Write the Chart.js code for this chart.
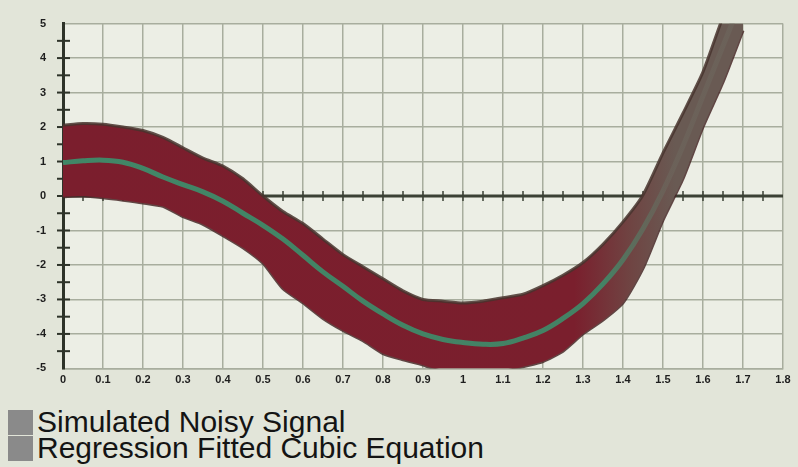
<!DOCTYPE html>
<html>
<head>
<meta charset="utf-8">
<script src="https://cdn.jsdelivr.net/npm/chart.js@4/dist/chart.umd.min.js"></script>
<style>
  html, body { margin: 0; padding: 0; }
  body { width: 798px; height: 467px; background: #e2e5d9; position: relative; overflow: hidden; font-family: "Liberation Sans", Arial, sans-serif; }
  #wrap { position: absolute; left: 0; top: 0; width: 798px; height: 392px; }
  #legend { position: absolute; left: 8px; top: 409px; }
  .row { height: 26px; line-height: 26px; font-size: 30px; color: #141414; white-space: nowrap; position: relative; padding-left: 29px; }
  .box { position: absolute; left: 0; top: 1px; width: 25px; height: 25px; background: #8a8a8a; }
</style>
</head>
<body>
<div id="wrap"><canvas id="chart"></canvas></div>
<div id="legend"></div>
<script>
// valori (x ogni 0.05)
const xValues = [0, 0.05, 0.1, 0.15, 0.2, 0.25, 0.3, 0.35, 0.4, 0.45, 0.5, 0.55, 0.6, 0.65, 0.7, 0.75, 0.8, 0.85,
                 0.9, 0.95, 1.0, 1.05, 1.1, 1.15, 1.2, 1.25, 1.3, 1.35, 1.4, 1.45, 1.5, 1.55, 1.6, 1.65, 1.7];
// bordo superiore del segnale rumoroso
const upperValues = [2.05, 2.1, 2.08, 2.0, 1.9, 1.7, 1.4, 1.1, 0.87, 0.5, 0.0, -0.45, -0.8, -1.25, -1.7, -2.05, -2.4, -2.75,
                     -3.0, -3.05, -3.1, -3.05, -2.95, -2.85, -2.6, -2.3, -1.93, -1.4, -0.75, 0.03, 1.25, 2.4, 3.6, 5.2, 6.6];
// bordo inferiore del segnale rumoroso
const lowerValues = [-0.02, 0.0, -0.05, -0.12, -0.2, -0.3, -0.6, -0.82, -1.15, -1.5, -1.95, -2.69, -3.1, -3.55, -3.9, -4.2, -4.57, -4.75,
                     -4.9, -5.1, -5.2, -5.2, -5.1, -4.95, -4.8, -4.5, -4.0, -3.6, -3.1, -2.1, -0.7, 0.5, 2.0, 3.3, 4.8];
// curva cubica di regressione
const fitValues = [0.97, 1.02, 1.04, 0.98, 0.8, 0.55, 0.33, 0.12, -0.15, -0.5, -0.85, -1.25, -1.72, -2.2, -2.62, -3.05, -3.42, -3.75,
                   -4.0, -4.16, -4.25, -4.3, -4.28, -4.12, -3.9, -3.55, -3.12, -2.55, -1.85, -0.95, 0.15, 1.45, 2.9, 4.35, 5.8];

const xTickLabels = ['0', '0.1', '0.2', '0.3', '0.4', '0.5', '0.6', '0.7', '0.8', '0.9', '1', '1.1', '1.2', '1.3', '1.4', '1.5', '1.6', '1.7', '1.8'];
const yTickLabels = ['-5', '-4', '-3', '-2', '-1', '0', '1', '2', '3', '4', '5'];
const legendLabels = ['Simulated Noisy Signal', 'Regression Fitted Cubic Equation'];

function toPoints(ys) {
    return xValues.map((x, i) => ({ x: x, y: ys[i] }));
}

// colore della banda: rosso scuro che diventa grigio-marrone a destra
function bandColor(context) {
    const chart = context.chart;
    if (!chart.chartArea) return '#7a1e2d';
    const xs = chart.scales.x;
    const g = chart.ctx.createLinearGradient(xs.getPixelForValue(0), 0, xs.getPixelForValue(1.8), 0);
    g.addColorStop(0, '#7b1e2d');
    g.addColorStop(0.71, '#7a1f2d');
    g.addColorStop(0.79, '#6f4543');
    g.addColorStop(0.85, '#695a53');
    g.addColorStop(1, '#695a53');
    return g;
}

function fitColor(context) {
    const chart = context.chart;
    if (!chart.chartArea) return '#3f8a69';
    const xs = chart.scales.x;
    const g = chart.ctx.createLinearGradient(xs.getPixelForValue(0), 0, xs.getPixelForValue(1.8), 0);
    g.addColorStop(0, 'rgba(62,140,106,0.95)');
    g.addColorStop(0.75, 'rgba(62,140,106,0.9)');
    g.addColorStop(0.84, 'rgba(110,105,95,0.5)');
    g.addColorStop(1, 'rgba(110,105,95,0.5)');
    return g;
}

// sfondo area del grafico, asse dello zero e tacche
const plotDecor = {
    id: 'plotDecor',
    beforeDraw(chart) {
        const { ctx, chartArea } = chart;
        ctx.save();
        ctx.fillStyle = '#eceee5';
        ctx.fillRect(chartArea.left, chartArea.top, chartArea.right - chartArea.left, chartArea.bottom - chartArea.top);
        ctx.restore();
    },
    beforeDatasetsDraw(chart) {
        const { ctx, chartArea } = chart;
        const xs = chart.scales.x, ys = chart.scales.y;
        const y0 = ys.getPixelForValue(0);
        ctx.save();
        ctx.strokeStyle = '#3b4135';
        ctx.lineWidth = 3;
        ctx.beginPath();
        ctx.moveTo(chartArea.left, y0);
        ctx.lineTo(chartArea.right, y0);
        ctx.stroke();
        ctx.lineWidth = 1.5;
        for (let v = 0.05; v < 1.8; v += 0.05) {
            const px = xs.getPixelForValue(v);
            ctx.beginPath();
            ctx.moveTo(px, y0 - 5);
            ctx.lineTo(px, y0 + 5);
            ctx.stroke();
        }
        // tacche minori sull'asse y
        const x0 = xs.getPixelForValue(0);
        ctx.strokeStyle = '#2e3329';
        ctx.lineWidth = 2;
        for (let v = -4.5; v < 5; v += 0.5) {
            const py = ys.getPixelForValue(v);
            ctx.beginPath();
            ctx.moveTo(x0 - 6, py);
            ctx.lineTo(x0 + 7, py);
            ctx.stroke();
        }
        ctx.restore();
    }
};

const ctx = document.getElementById('chart').getContext('2d');
new Chart(ctx, {
    type: 'line',
    data: {
        datasets: [
            {
                label: legendLabels[1],
                data: toPoints(fitValues),
                borderColor: fitColor,
                borderWidth: 5,
                pointRadius: 0,
                tension: 0.4,
                fill: false,
                order: 0
            },
            {
                label: legendLabels[0],
                data: toPoints(upperValues),
                borderColor: 'rgba(72,52,46,0.85)',
                backgroundColor: bandColor,
                borderWidth: 3,
                pointRadius: 0,
                tension: 0.2,
                fill: '+1',
                order: 1
            },
            {
                label: legendLabels[0],
                data: toPoints(lowerValues),
                borderColor: 'rgba(72,40,40,0.85)',
                borderWidth: 3,
                pointRadius: 0,
                tension: 0.2,
                fill: false,
                order: 2
            }
        ]
    },
    plugins: [plotDecor],
    options: {
        responsive: true,
        maintainAspectRatio: false,
        animation: false,
        layout: { padding: { top: 15, right: 15, left: 0, bottom: 0 } },
        plugins: {
            legend: { display: false },
            tooltip: { enabled: false }
        },
        scales: {
            x: {
                type: 'linear',
                min: 0,
                max: 1.8,
                ticks: {
                    stepSize: 0.1,
                    padding: 5,
                    color: '#1e1e1e',
                    font: { family: 'Liberation Sans', size: 11, weight: 'bold' },
                    callback: (v, i) => xTickLabels[i],
                    maxRotation: 0,
                    autoSkip: false
                },
                grid: { color: '#a8ad9e', lineWidth: 1.5, drawTicks: false },
                border: { color: '#a8ad9e', width: 1.5 },
                afterFit: (scale) => { scale.height = 20; }
            },
            y: {
                min: -5,
                max: 5,
                ticks: {
                    stepSize: 1,
                    padding: 17,
                    color: '#1e1e1e',
                    font: { family: 'Liberation Sans', size: 11, weight: 'bold' },
                    callback: (v, i) => yTickLabels[i]
                },
                grid: { color: '#a8ad9e', lineWidth: 1.5, drawTicks: false },
                border: { color: '#2e3329', width: 3 },
                afterFit: (scale) => { scale.width = 63; }
            }
        }
    }
});

// legenda HTML su due righe
const legend = document.getElementById('legend');
legendLabels.forEach(text => {
    legend.innerHTML += `<div class="row"><span class="box"></span>${text}</div>`;
});
</script>
</body>
</html>
